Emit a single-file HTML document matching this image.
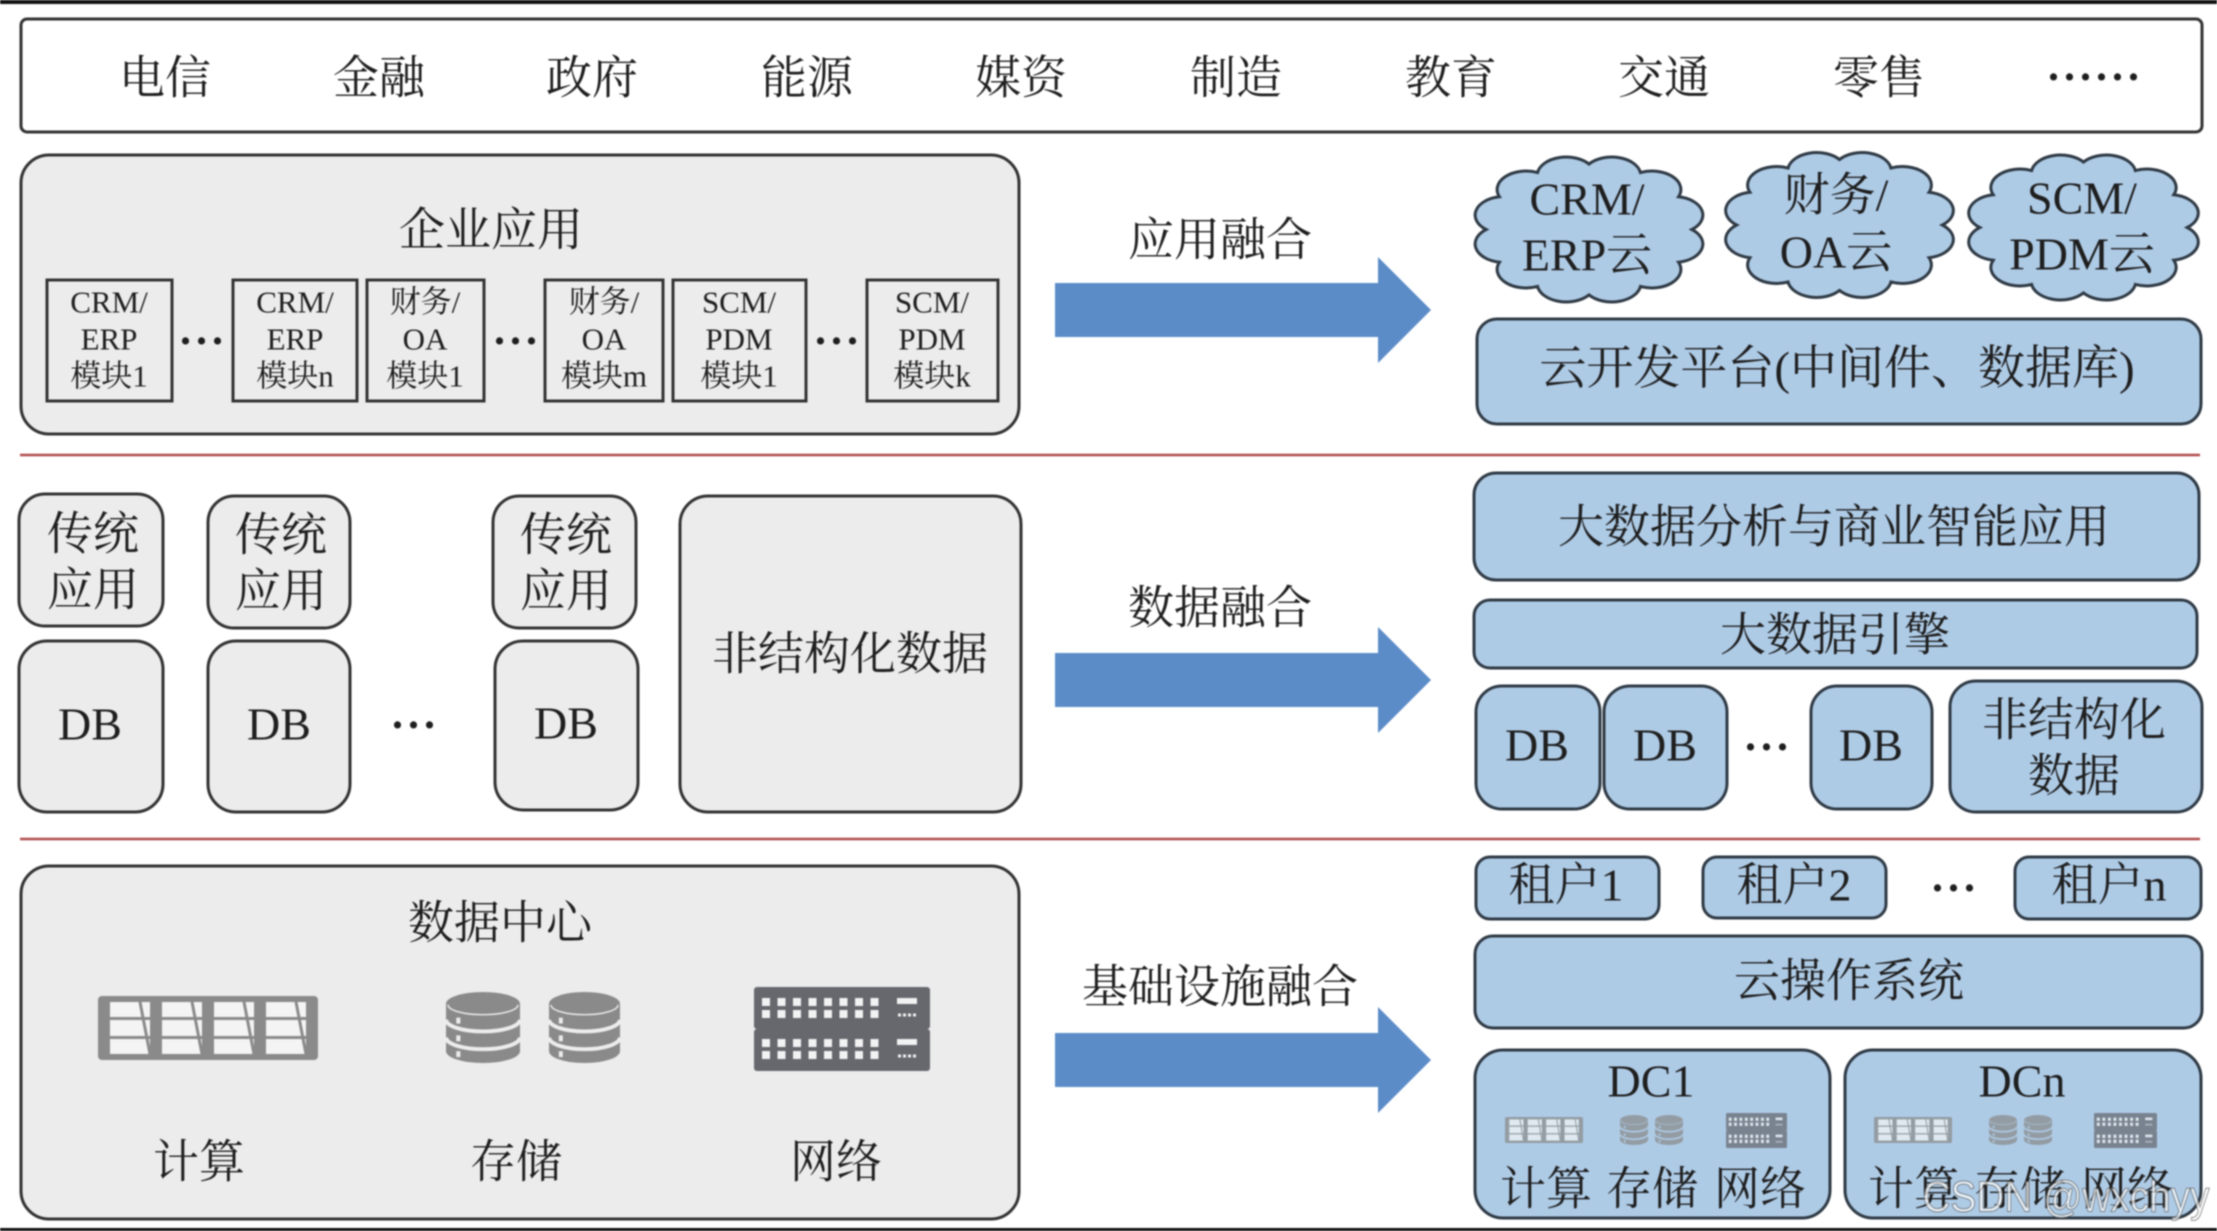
<!DOCTYPE html>
<html lang="zh">
<head>
<meta charset="utf-8">
<title>融合架构</title>
<style>
html,body{margin:0;padding:0;background:#fff;width:2217px;height:1231px;overflow:hidden}
svg{display:block;filter:blur(.8px)}
text{font-family:"Liberation Serif","Noto Serif CJK SC",serif;fill:#1e1e1e;text-anchor:middle;dominant-baseline:central;font-size:46px;transform:translateY(2px)}
.b{fill:#aecbe6;stroke:#2f3a45;stroke-width:3}
.g{fill:#ececec;stroke:#333;stroke-width:3}
.m{fill:#ececec;stroke:#333;stroke-width:3}
.a{fill:#5b8cc8}
.s text{font-size:31px}
.d{font-weight:bold;dominant-baseline:alphabetic;letter-spacing:5px;font-size:44px;transform:none}
</style>
</head>
<body>
<svg width="2217" height="1231" viewBox="0 0 2217 1231" xmlns="http://www.w3.org/2000/svg">
<defs>
<symbol id="comp" viewBox="0 0 220 64" preserveAspectRatio="none">
<rect width="220" height="64" rx="4" fill="#8a8a8a"/>
<g fill="#f4f4f4">
<rect x="12" y="6" width="40" height="15"/><rect x="12" y="24" width="40" height="16"/><rect x="12" y="43" width="40" height="15"/>
<rect x="64" y="6" width="40" height="15"/><rect x="64" y="24" width="40" height="16"/><rect x="64" y="43" width="40" height="15"/>
<rect x="116" y="6" width="40" height="15"/><rect x="116" y="24" width="40" height="16"/><rect x="116" y="43" width="40" height="15"/>
<rect x="168" y="6" width="40" height="15"/><rect x="168" y="24" width="40" height="16"/><rect x="168" y="43" width="40" height="15"/>
</g>
<g stroke="#8a8a8a" stroke-width="3">
<line x1="42" y1="6" x2="52" y2="58"/><line x1="94" y1="6" x2="104" y2="58"/><line x1="146" y1="6" x2="156" y2="58"/><line x1="198" y1="6" x2="208" y2="58"/>
</g>
</symbol>
<symbol id="cyl" viewBox="0 0 72 72" preserveAspectRatio="none">
<path d="M0 12A36 12 0 0 1 72 12V60A36 12 0 0 1 0 60Z" fill="#8a8a8a"/>
<path d="M2 13A34 10 0 0 0 70 13" fill="none" stroke="currentColor" stroke-width="1.5"/>
<path d="M0 28A36 12 0 0 0 72 28M0 46A36 12 0 0 0 72 46" fill="none" stroke="currentColor" stroke-width="4"/>
<rect x="10" y="26" width="4" height="6" fill="currentColor"/><rect x="10" y="44" width="4" height="6" fill="currentColor"/><rect x="10" y="60" width="4" height="6" fill="currentColor"/>
</symbol>
<symbol id="net" viewBox="0 0 176 84" preserveAspectRatio="none">
<rect width="176" height="42" rx="3" fill="#66686e"/>
<rect y="42" width="176" height="42" rx="3" fill="#66686e"/>
<g fill="none" stroke="#f2f2f2" stroke-width="8" stroke-dasharray="8 7.5">
<line x1="8" y1="15" x2="128" y2="15"/><line x1="8" y1="27" x2="128" y2="27"/>
<line x1="8" y1="56" x2="128" y2="56"/><line x1="8" y1="68" x2="128" y2="68"/>
</g>
<g fill="#f2f2f2">
<rect x="143" y="11" width="20" height="6"/><rect x="143" y="52" width="20" height="6"/>
</g>
<g fill="none" stroke="#f2f2f2" stroke-width="3" stroke-dasharray="3 2">
<line x1="144" y1="28" x2="164" y2="28"/><line x1="144" y1="69" x2="164" y2="69"/>
</g>
</symbol>
<path id="cloud" d="M85 0A24 24 0 0 1 74 42.5A24 24 0 0 1 42.5 74A24 24 0 0 1 0 85A24 24 0 0 1 -42.5 74A24 24 0 0 1 -74 42.5A24 24 0 0 1 -85 0A24 24 0 0 1 -74 -42.5A24 24 0 0 1 -42.5 -74A24 24 0 0 1 0 -85A24 24 0 0 1 42.5 -74A24 24 0 0 1 74 -42.5A24 24 0 0 1 85 0Z" vector-effect="non-scaling-stroke"/>
</defs>

<rect width="2217" height="1231" fill="#fff"/>
<rect width="2217" height="4" fill="#111"/>
<rect y="1228" width="2217" height="3" fill="#111"/>

<!-- top industries -->
<rect x="21" y="19" width="2181" height="113" rx="6" fill="#fff" stroke="#333" stroke-width="3"/>
<text x="165" y="76">电信</text><text x="379" y="76">金融</text><text x="592" y="76">政府</text><text x="807" y="76">能源</text><text x="1021" y="76">媒资</text><text x="1236" y="76">制造</text><text x="1451" y="76">教育</text><text x="1664" y="76">交通</text><text x="1879" y="76">零售</text>
<text class="d" x="2096" y="80">......</text>

<!-- separators -->
<line x1="20" y1="455" x2="2200" y2="455" stroke="#b04a4a" stroke-width="2.5"/>
<line x1="20" y1="839" x2="2200" y2="839" stroke="#b04a4a" stroke-width="2.5"/>

<!-- enterprise apps -->
<rect class="g" x="21" y="155" width="998" height="279" rx="28"/>
<text x="491" y="228">企业应用</text>
<rect class="m" x="47" y="280" width="125" height="121"/>
<rect class="m" x="233" y="280" width="124" height="121"/>
<rect class="m" x="367" y="280" width="117" height="121"/>
<rect class="m" x="545" y="280" width="118" height="121"/>
<rect class="m" x="673" y="280" width="133" height="121"/>
<rect class="m" x="867" y="280" width="131" height="121"/>
<g class="s">
<text x="109" y="300">CRM/</text><text x="109" y="337">ERP</text><text x="109" y="374">模块1</text>
<text x="295" y="300">CRM/</text><text x="295" y="337">ERP</text><text x="295" y="374">模块n</text>
<text x="425" y="300">财务/</text><text x="425" y="337">OA</text><text x="425" y="374">模块1</text>
<text x="604" y="300">财务/</text><text x="604" y="337">OA</text><text x="604" y="374">模块m</text>
<text x="739" y="300">SCM/</text><text x="739" y="337">PDM</text><text x="739" y="374">模块1</text>
<text x="932" y="300">SCM/</text><text x="932" y="337">PDM</text><text x="932" y="374">模块k</text>
</g>
<text class="d" x="204" y="344">...</text><text class="d" x="518" y="344">...</text><text class="d" x="839" y="344">...</text>

<!-- arrows -->
<polygon class="a" points="1055,283 1378,283 1378,257 1431,310 1378,363 1378,337 1055,337"/>
<polygon class="a" points="1055,653 1378,653 1378,627 1431,680 1378,733 1378,707 1055,707"/>
<polygon class="a" points="1055,1033 1378,1033 1378,1007 1431,1060 1378,1113 1378,1087 1055,1087"/>
<text x="1220" y="238">应用融合</text>
<text x="1220" y="606">数据融合</text>
<text x="1220" y="985">基础设施融合</text>

<!-- clouds -->
<use href="#cloud" class="b" transform="translate(1589 229.5) scale(1.21 .77)"/>
<use href="#cloud" class="b" transform="translate(1839.5 225) scale(1.21 .77)"/>
<use href="#cloud" class="b" transform="translate(2083.5 227.5) scale(1.22 .77)"/>
<text x="1587" y="197">CRM/</text><text x="1587" y="253">ERP云</text>
<text x="1836" y="193">财务/</text><text x="1836" y="250">OA云</text>
<text x="2082" y="196">SCM/</text><text x="2082" y="252">PDM云</text>
<rect class="b" x="1477" y="319" width="724" height="105" rx="20"/>
<text x="1837" y="367" style="font-size:47px">云开发平台(中间件、数据库)</text>

<!-- left middle -->
<rect class="g" x="19" y="494" width="144" height="132" rx="26"/>
<rect class="g" x="208" y="496" width="142" height="132" rx="26"/>
<rect class="g" x="493" y="496" width="143" height="132" rx="26"/>
<text x="93" y="532">传统</text><text x="93" y="588">应用</text>
<text x="281" y="533">传统</text><text x="281" y="589">应用</text>
<text x="566" y="533">传统</text><text x="566" y="589">应用</text>
<rect class="g" x="19" y="641" width="144" height="171" rx="28"/>
<rect class="g" x="208" y="641" width="142" height="171" rx="28"/>
<rect class="g" x="495" y="641" width="143" height="169" rx="28"/>
<text x="90" y="722">DB</text><text x="279" y="722">DB</text><text x="566" y="721">DB</text>
<text class="d" x="416" y="728">...</text>
<rect class="g" x="680" y="496" width="341" height="316" rx="28"/>
<text x="850" y="652">非结构化数据</text>

<!-- right middle -->
<rect class="b" x="1474" y="473" width="725" height="107" rx="22"/>
<text x="1834" y="525">大数据分析与商业智能应用</text>
<rect class="b" x="1474" y="600" width="723" height="68" rx="16"/>
<text x="1835" y="633">大数据引擎</text>
<rect class="b" x="1476" y="686" width="124" height="123" rx="26"/>
<rect class="b" x="1604" y="686" width="123" height="123" rx="26"/>
<rect class="b" x="1811" y="686" width="121" height="123" rx="26"/>
<rect class="b" x="1950" y="681" width="252" height="131" rx="26"/>
<text x="1537" y="743">DB</text><text x="1665" y="743">DB</text><text x="1871" y="743">DB</text>
<text class="d" x="1769" y="750">...</text>
<text x="2074" y="718">非结构化</text><text x="2074" y="774">数据</text>

<!-- data center -->
<rect class="g" x="21" y="866" width="998" height="353" rx="28"/>
<text x="500" y="921">数据中心</text>
<use href="#comp" x="98" y="996" width="220" height="64"/>
<use href="#cyl" x="446" y="992" width="74" height="71" style="color:#ececec"/>
<use href="#cyl" x="549" y="992" width="71" height="71" style="color:#ececec"/>
<use href="#net" x="754" y="987" width="176" height="84"/>
<text x="199" y="1160">计算</text><text x="516" y="1160">存储</text><text x="836" y="1160">网络</text>

<!-- right bottom -->
<rect class="b" x="1476" y="857" width="183" height="62" rx="14"/>
<rect class="b" x="1703" y="857" width="183" height="61" rx="14"/>
<rect class="b" x="2015" y="857" width="186" height="62" rx="14"/>
<text x="1566" y="883">租户1</text><text x="1794" y="883">租户2</text><text x="2109" y="883">租户n</text>
<text class="d" x="1956" y="891">...</text>
<rect class="b" x="1475" y="936" width="727" height="92" rx="18"/>
<text x="1849" y="979">云操作系统</text>
<rect class="b" x="1475" y="1050" width="355" height="168" rx="28"/>
<rect class="b" x="1845" y="1050" width="356" height="168" rx="28"/>
<text x="1651" y="1079">DC1</text><text x="2022" y="1079">DCn</text>
<g opacity=".72">
<use href="#comp" x="1505" y="1117" width="78" height="26"/>
<use href="#cyl" x="1620" y="1115" width="28" height="30" style="color:#aecbe6"/>
<use href="#cyl" x="1655" y="1115" width="28" height="30" style="color:#aecbe6"/>
<use href="#net" x="1726" y="1113" width="61" height="35"/>
<use href="#comp" x="1874" y="1117" width="78" height="26"/>
<use href="#cyl" x="1989" y="1115" width="28" height="30" style="color:#aecbe6"/>
<use href="#cyl" x="2024" y="1115" width="28" height="30" style="color:#aecbe6"/>
<use href="#net" x="2094" y="1113" width="63" height="35"/>
</g>
<text x="1546" y="1187">计算</text><text x="1652" y="1187">存储</text><text x="1760" y="1187">网络</text>
<text x="1914" y="1187">计算</text><text x="2020" y="1187">存储</text><text x="2127" y="1187">网络</text>
<text x="2066" y="1195" textLength="287" lengthAdjust="spacingAndGlyphs" style="font-family:'Liberation Sans',sans-serif;font-size:44px;fill:rgba(255,255,255,.7);stroke:rgba(80,80,80,.65);stroke-width:1">CSDN @wxchyy</text>
</svg>
</body>
</html>
